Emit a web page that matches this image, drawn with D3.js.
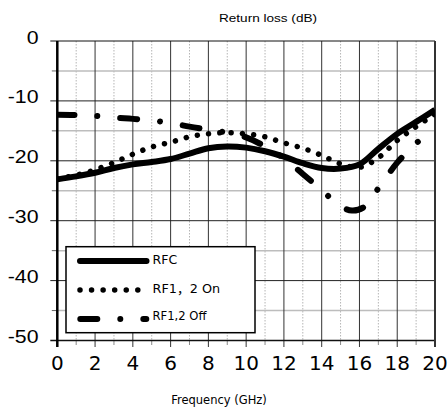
<!DOCTYPE html>
<html lang="en">
<head>
	<meta charset="utf-8">
	<title>return loss</title>
	<script src="https://d3js.org/d3.v7.min.js"></script>
	<style>
		body{ margin:0; background:white; }
		.ylab{ font-family:"Liberation Sans",Arial,sans-serif; font-size:19px; fill:black; }
		.xlab{ font-family:"DejaVu Sans",sans-serif; font-size:20px; fill:black; }
		.leg{ font-family:"DejaVu Sans","Noto Sans CJK SC",sans-serif; fill:black; }
	</style>
</head>
<body>
<div id="chart"></div>

<script>
// data
let xTicks=[0,2,4,6,8,10,12,14,16,18,20];
let yTicks=[0,-10,-20,-30,-40,-50];

let freqRFC=[0,1,2,3,4,5,6,7,8,9,10,11,12,13,14,15,16,17,18,19,20];
let rfc=[-23.1,-22.6,-22.0,-21.2,-20.6,-20.2,-19.7,-18.8,-17.9,-17.6,-17.8,-18.4,-19.3,-20.4,-21.2,-21.3,-20.6,-18.0,-15.5,-13.5,-11.5];

let freqOn=[0,1,2,3,4,5,6,7,8,9,10,11,12,13,14,15,16,17,18,19,20];
let rfOn=[-23.0,-22.4,-21.5,-20.3,-18.9,-17.7,-16.9,-16.0,-15.5,-15.3,-15.5,-16.0,-17.0,-17.9,-19.1,-20.5,-21.1,-19.5,-16.6,-14.3,-12.2];

let freqOff=[0,1,2,3,4,5,6,7,8,9,10,11,12,13,14,15,15.6,16.2,17,18,19,19.6];
let rfOff=[-12.3,-12.35,-12.5,-12.8,-13.0,-13.25,-13.7,-14.3,-14.8,-15.3,-16.1,-17.6,-19.6,-22.2,-24.9,-27.6,-28.3,-27.8,-24.6,-20.3,-17.1,-15.5];

let legendNames=["RFC","RF1\uFF0C2 On","RF1,2 Off"];

let svg=d3.select("#chart").append("svg")
	.attr("width",448).attr("height",412);

let x=d3.scaleLinear().domain([0,20]).range([57.3,435]);
let y=d3.scaleLinear().domain([-50,0]).range([340.5,41]);

// grid
let minorX=d3.range(1,20,2);
svg.selectAll(".gxm").data(minorX).enter().append("line")
	.attr("x1",d=>x(d)).attr("x2",d=>x(d))
	.attr("y1",y(0)).attr("y2",y(-50))
	.attr("stroke","#b5b5b5").attr("stroke-width",1).attr("stroke-dasharray","1.5,1.5");
let minorY=d3.range(-5,-50,-10);
svg.selectAll(".gym").data(minorY).enter().append("line")
	.attr("x1",x(0)).attr("x2",x(20))
	.attr("y1",d=>y(d)).attr("y2",d=>y(d))
	.attr("stroke","#bdbdbd").attr("stroke-width",1.5);
svg.selectAll(".gx").data(xTicks.slice(1,-1)).enter().append("line")
	.attr("x1",d=>x(d)).attr("x2",d=>x(d))
	.attr("y1",y(0)).attr("y2",y(-50)+6.5)
	.attr("stroke","#333").attr("stroke-width",1);
svg.selectAll(".gy").data(yTicks.slice(1,-1)).enter().append("line")
	.attr("x1",x(0)-7).attr("x2",x(20))
	.attr("y1",d=>y(d)).attr("y2",d=>y(d))
	.attr("stroke","#222").attr("stroke-width",1);

// ticks
svg.selectAll(".tyl").data(minorY).enter().append("line")
	.attr("x1",x(0)-5.5).attr("x2",x(0))
	.attr("y1",d=>y(d)).attr("y2",d=>y(d))
	.attr("stroke","#666").attr("stroke-width",1);
svg.selectAll(".txm").data(minorX).enter().append("line")
	.attr("x1",d=>x(d)).attr("x2",d=>x(d))
	.attr("y1",y(-50)).attr("y2",y(-50)+4.5)
	.attr("stroke","#888").attr("stroke-width",1);

// frame
svg.append("line").attr("x1",x(0)-7).attr("x2",x(20)).attr("y1",y(0)).attr("y2",y(0))
	.attr("stroke","#111").attr("stroke-width",1);
svg.append("line").attr("x1",x(0)-7).attr("x2",x(20)).attr("y1",y(-50)).attr("y2",y(-50))
	.attr("stroke","#111").attr("stroke-width",1.5);
svg.append("line").attr("x1",x(20)).attr("x2",x(20)).attr("y1",y(0)).attr("y2",y(-50)+6.5)
	.attr("stroke","#333").attr("stroke-width",2);
svg.append("line").attr("x1",x(0)).attr("x2",x(0)).attr("y1",y(0)).attr("y2",y(-50)+6.5)
	.attr("stroke","#000").attr("stroke-width",2.5);

// tick labels
svg.selectAll(".ylab").data(yTicks).enter().append("text")
	.attr("class","ylab")
	.attr("x",38.5).attr("y",d=>y(d)+2.5)
	.attr("text-anchor","end")
	.text(d=>d)
	.each(function(){
		let w=this.getComputedTextLength();
		d3.select(this).attr("textLength",w*1.12).attr("lengthAdjust","spacingAndGlyphs");
	});
svg.selectAll(".xlab").data(xTicks).enter().append("text")
	.attr("class","xlab")
	.attr("x",d=>x(d)).attr("y",370)
	.attr("text-anchor","middle")
	.text(d=>d);

// titles
svg.append("text").attr("x",268).attr("y",22.3).attr("text-anchor","middle")
	.style("font-family","'Liberation Sans',Arial,sans-serif").style("font-size","11px")
	.attr("textLength",98).attr("lengthAdjust","spacingAndGlyphs")
	.text("Return loss (dB)");
svg.append("text").attr("x",219).attr("y",404.3).attr("text-anchor","middle")
	.style("font-family","'DejaVu Sans',sans-serif").style("font-size","11.5px")
	.text("Frequency (GHz)");

// curves
svg.append("clipPath").attr("id","plotclip").append("rect")
	.attr("x",x(0)).attr("y",y(0)).attr("width",x(20)-x(0)).attr("height",y(-50)-y(0));

let line=d3.line().x(d=>x(d[0])).y(d=>y(d[1])).curve(d3.curveCatmullRom);
let plot=svg.append("g").attr("clip-path","url(#plotclip)");

plot.append("path").datum(d3.zip(freqOff,rfOff)).attr("d",line)
	.attr("fill","none").attr("stroke","#000").attr("stroke-width",6)
	.attr("stroke-linecap","round").attr("stroke-dasharray","17,23,0.01,23");
plot.append("path").datum(d3.zip(freqOn,rfOn)).attr("d",line)
	.attr("fill","none").attr("stroke","#000").attr("stroke-width",5.5)
	.attr("stroke-linecap","round").attr("stroke-dasharray","0.01,11.3");
plot.append("path").datum(d3.zip(freqRFC,rfc)).attr("d",line)
	.attr("fill","none").attr("stroke","#000").attr("stroke-width",6);

// legend
let leg=svg.append("g");
leg.append("rect").attr("x",66).attr("y",246.7).attr("width",189).attr("height",86)
	.attr("fill","white").attr("stroke","#000").attr("stroke-width",1.5);
leg.append("line").attr("x1",80).attr("x2",146.5).attr("y1",261).attr("y2",261)
	.attr("stroke","#000").attr("stroke-width",6).attr("stroke-linecap","round");
leg.append("line").attr("x1",80).attr("x2",146).attr("y1",290).attr("y2",290)
	.attr("stroke","#000").attr("stroke-width",5.5).attr("stroke-linecap","round")
	.attr("stroke-dasharray","0.01,11.55");
leg.append("line").attr("x1",80.3).attr("x2",146.3).attr("y1",319).attr("y2",319)
	.attr("stroke","#000").attr("stroke-width",6).attr("stroke-linecap","round")
	.attr("stroke-dasharray","17,23,0.01,23");
let legY=[264,293.3,320];
let legSize=[12.5,12.8,11.6];
leg.selectAll("text").data(legendNames).enter().append("text")
	.attr("class","leg")
	.attr("x",152.5).attr("y",(d,i)=>legY[i])
	.style("font-size",(d,i)=>legSize[i]+"px")
	.text(d=>d);
</script>
</body>
</html>
